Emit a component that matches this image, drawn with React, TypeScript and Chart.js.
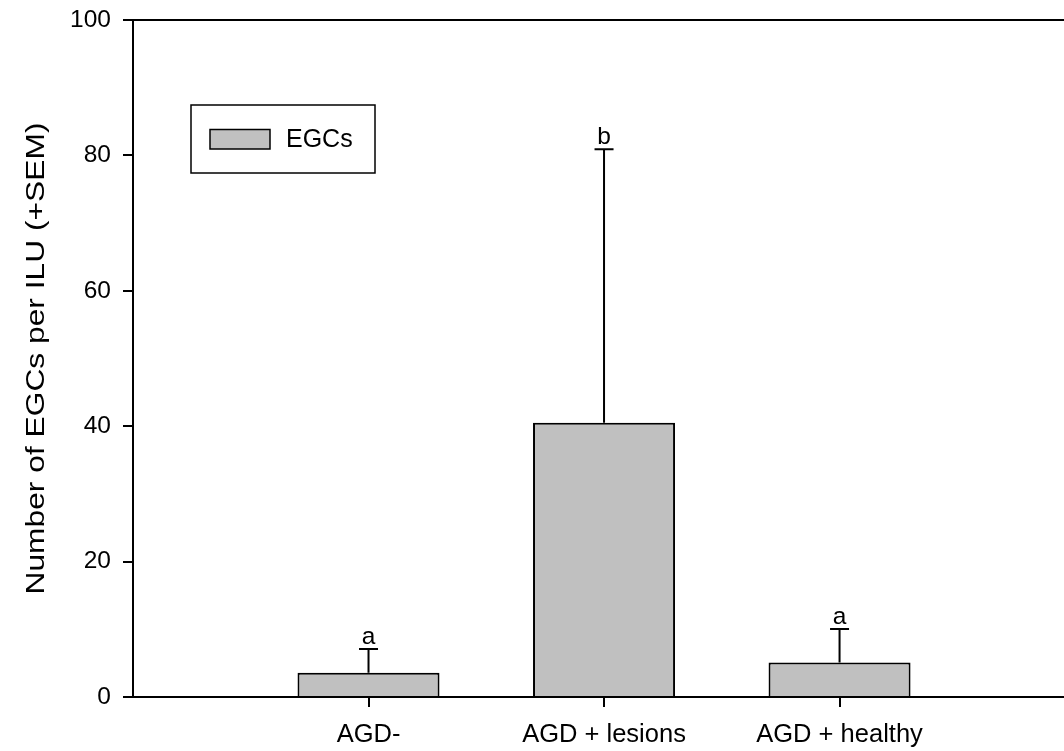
import React, { useEffect, useRef } from "react";
import { Chart, registerables } from "chart.js";

Chart.register(...registerables);

const categories = ["AGD-", "AGD + lesions", "AGD + healthy"];
const means = [3.6, 40.5, 5.1];
const sems = [3.5, 40.4, 4.95];
const letters = ["a", "b", "a"];
const seriesLabel = "EGCs";
const yTitle = "Number of EGCs per ILU (+SEM)";
const yTicks = [0, 20, 40, 60, 80, 100];

const FONT = "'Liberation Sans', Arial, sans-serif";
const FS = 24.5;

const errorPlugin = {
  id: "errorBars",
  afterDatasetsDraw(chart: any) {
    const { ctx, scales } = chart;
    const meta = chart.getDatasetMeta(0);
    const y = scales.y;
    ctx.save();
    ctx.strokeStyle = "#000";
    ctx.lineWidth = 2;
    ctx.fillStyle = "#000";
    ctx.font = `${FS}px ${FONT}`;
    ctx.textAlign = "center";
    ctx.textBaseline = "alphabetic";
    meta.data.forEach((el: any, i: number) => {
      const top = y.getPixelForValue(means[i] + sems[i]);
      ctx.beginPath();
      ctx.moveTo(el.x, el.y);
      ctx.lineTo(el.x, top);
      ctx.moveTo(el.x - 9.5, top);
      ctx.lineTo(el.x + 9.5, top);
      ctx.stroke();
      ctx.fillText(letters[i], el.x, top - 5);
    });
    // top frame line
    const a = chart.chartArea;
    ctx.beginPath();
    ctx.moveTo(a.left, a.top);
    ctx.lineTo(a.right, a.top);
    ctx.stroke();
    // legend box
    ctx.lineWidth = 1.5;
    ctx.strokeRect(191, 105, 184, 68);
    ctx.fillStyle = "#c0c0c0";
    ctx.fillRect(210, 129.5, 60, 19.5);
    ctx.strokeRect(210, 129.5, 60, 19.5);
    ctx.fillStyle = "#000";
    ctx.textAlign = "left";
    ctx.textBaseline = "middle";
    ctx.font = `25px ${FONT}`;
    ctx.fillText(chart.data.datasets[0].label, 286, 140);
    // y axis title (stretched along its reading direction)
    ctx.translate(44, (a.top + a.bottom) / 2);
    ctx.rotate(-Math.PI / 2);
    ctx.scale(1.27, 1);
    ctx.font = `25px ${FONT}`;
    ctx.textAlign = "center";
    ctx.textBaseline = "alphabetic";
    ctx.fillText(yTitle, 0, 0);
    ctx.restore();
  },
};

export default function App() {
  const ref = useRef<HTMLCanvasElement>(null);
  useEffect(() => {
    const chart = new Chart(ref.current!, {
      type: "bar",
      data: {
        datasets: [
          {
            label: seriesLabel,
            data: means.map((m, i) => ({ x: i + 1, y: m })),
            backgroundColor: "#c0c0c0",
            borderColor: "#000",
            borderWidth: 2,
            barPercentage: 0.603,
            categoryPercentage: 1,
          },
        ],
      },
      options: {
        responsive: false,
        animation: false,
        devicePixelRatio: 1,
        layout: { padding: { top: 20, left: 0, right: 0, bottom: 0 } },
        plugins: { legend: { display: false }, tooltip: { enabled: false } },
        scales: {
          x: {
            type: "linear",
            offset: false,
            min: 0,
            max: 3.953,
            afterBuildTicks: (s: any) => {
              s.ticks = categories.map((_, i) => ({ value: i + 1 }));
            },
            afterFit: (s: any) => {
              s.height = 54;
              s.paddingLeft = 0;
              s.paddingRight = 0;
            },
            ticks: {
              autoSkip: false,
              maxRotation: 0,
              padding: 13,
              color: "#000",
              font: { family: FONT, size: 25.5 },
              callback: (v: any) => categories[Math.round(v) - 1] ?? "",
            },
            grid: { offset: false, drawOnChartArea: false, drawTicks: true, tickLength: 10, color: "#000", lineWidth: 2 },
            border: { display: true, color: "#000", width: 2 },
          },
          y: {
            min: 0,
            max: 100,
            afterBuildTicks: (s: any) => {
              s.ticks = yTicks.map((v) => ({ value: v }));
            },
            afterFit: (s: any) => {
              s.width = 133;
              s.paddingTop = 0;
              s.paddingBottom = 0;
            },
            ticks: {
              padding: 12,
              color: "#000",
              font: { family: FONT, size: FS },
            },
            grid: { drawOnChartArea: false, drawTicks: true, tickLength: 10, color: "#000", lineWidth: 2 },
            border: { display: true, color: "#000", width: 2 },
          },
        },
      },
      plugins: [errorPlugin],
    });
    return () => chart.destroy();
  }, []);
  return (
    <canvas
      ref={ref}
      width={1064}
      height={751}
      style={{ position: "absolute", left: 0, top: 0, background: "#fff" }}
    />
  );
}
